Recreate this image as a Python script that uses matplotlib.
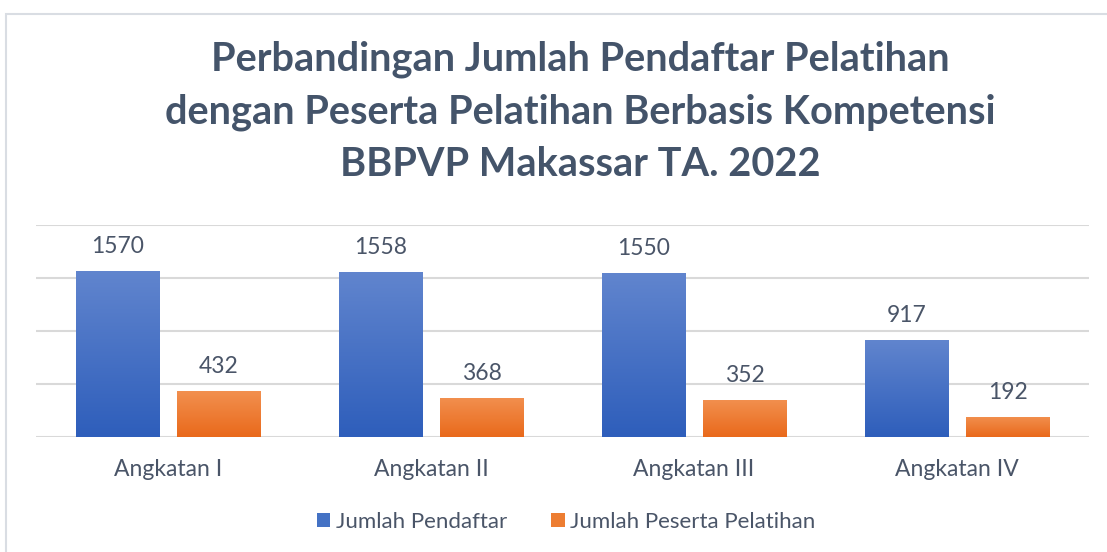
import matplotlib
matplotlib.use("Agg")
import matplotlib.pyplot as plt
import numpy as np
from matplotlib.patches import Rectangle, Patch
from matplotlib.colors import LinearSegmentedColormap

categories = ["Angkatan I", "Angkatan II", "Angkatan III", "Angkatan IV"]
pendaftar = [1570, 1558, 1550, 917]
peserta = [432, 368, 352, 192]
series_names = ["Jumlah Pendaftar", "Jumlah Peserta Pelatihan"]
title = "Perbandingan Jumlah Pendaftar Pelatihan\ndengan Peserta Pelatihan Berbasis Kompetensi\nBBPVP Makassar TA. 2022"

W, H = 1107, 552
fig = plt.figure(figsize=(W / 100, H / 100), dpi=100)
plt.rcParams['font.family'] = ['Lato', 'DejaVu Sans']
text_color = "#44546A"
label_color = "#4A5568"

# chart border
fig.patches.append(Rectangle((6 / W, -0.1), 1.2, (H - 14) / H + 0.1, transform=fig.transFigure,
                             fill=False, edgecolor="#D9DDE3", linewidth=1.5))

ax = fig.add_axes([36.5 / W, (H - 437) / H, (1088.5 - 36.5) / W, 212 / H])
ax.set_xlim(-0.5, len(categories) - 0.5)
ax.set_ylim(0, 2000)
for s in ax.spines.values():
    s.set_visible(False)
ax.set_yticks([0, 500, 1000, 1500, 2000])
ax.yaxis.grid(True, color="#D9D9D9", linewidth=1.5)
ax.set_axisbelow(True)
ax.tick_params(axis='y', left=False, labelleft=False)
ax.tick_params(axis='x', bottom=False, pad=12, labelsize=16.5, labelcolor=label_color)
x = np.arange(len(categories))
ax.set_xticks(x)
ax.set_xticklabels(categories)

bw = 0.316
off = 0.192
blue_cmap = LinearSegmentedColormap.from_list("b", ["#2E5EBB", "#6185CE"])
orange_cmap = LinearSegmentedColormap.from_list("o", ["#E9691B", "#F2904F"])
grad = np.linspace(0, 1, 256).reshape(-1, 1)

for vals, dx, cmap, base in [(pendaftar, -off, blue_cmap, "#4472C4"), (peserta, off, orange_cmap, "#ED7D31")]:
    bars = ax.bar(x + dx, vals, width=bw, color=base, zorder=2)
    for b, v in zip(bars, vals):
        x0 = b.get_x()
        im = ax.imshow(grad, extent=[x0, x0 + bw, 0, v], origin='lower', cmap=cmap,
                       aspect='auto', zorder=3)
        im.set_clip_path(b)
        ax.annotate(str(v), (b.get_x() + bw / 2, v), xytext=(0, 10), textcoords='offset points',
                    ha='center', va='bottom', fontsize=16.5, color=label_color)
ax.set_xlim(-0.5, len(categories) - 0.5)
ax.set_ylim(0, 2000)

fig.text(580 / W, 1 - 112 / H, title, ha='center', va='center', fontsize=28.6, fontweight='bold',
         color=text_color, linespacing=1.5)

handles = [Patch(facecolor="#4472C4"), Patch(facecolor="#ED7D31")]
fig.legend(handles, series_names, loc='center', bbox_to_anchor=(566 / W, 1 - 522 / H), ncol=2,
           frameon=False, fontsize=16, labelcolor=label_color, handlelength=0.6, handleheight=0.6,
           handletextpad=0.25, columnspacing=2.0)

fig.savefig("out.png", dpi=100)
